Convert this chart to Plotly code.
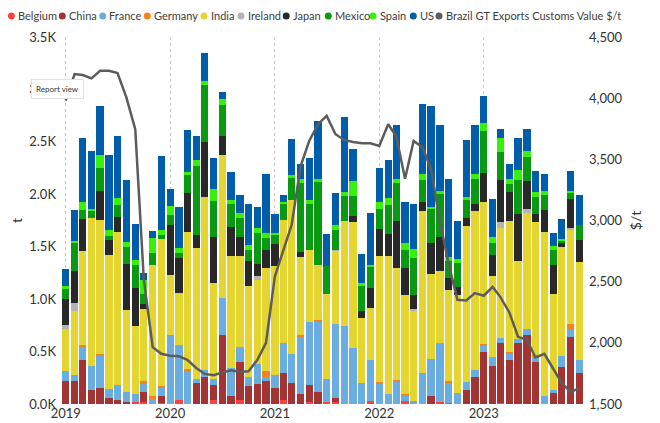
import pandas as pd
import plotly.graph_objects as go

# ---------------- data ----------------
months = pd.date_range("2019-01-01", "2023-12-01", freq="MS")

belgium = [0, 0, 0, 0, 0, 0, 0, 0, 19, 19, 0, 10,
           0, 38, 0, 0, 0, 38, 0, 0, 38, 0, 0, 0,
           0, 38, 0, 0, 19, 0, 19, 19, 0, 0, 0, 29,
           0, 0, 0, 29, 0, 0, 0, 19, 12, 0, 0, 0,
           0, 0, 12, 0, 0, 0, 0, 0, 0, 0, 0, 0]
china = [220, 220, 421, 134, 153, 57, 38, 19, 0, 96, 0, 67,
         0, 0, 0, 201, 258, 143, 660, 77, 363, 172, 191, 220,
         153, 258, 201, 96, 163, 115, 0, 38, 0, 0, 0, 0,
         0, 0, 0, 0, 0, 0, 77, 0, 0, 0, 134, 258,
         497, 363, 574, 421, 583, 660, 402, 0, 105, 354, 641, 296]
france = [96, 57, 124, 230, 306, 86, 143, 96, 77, 77, 57, 77,
          660, 526, 316, 38, 67, 57, 354, 268, 143, 86, 191, 38,
          124, 287, 277, 545, 602, 669, 220, 708, 746, 535, 201, 392,
          191, 96, 210, 48, 29, 296, 354, 564, 191, 105, 77, 67,
          57, 86, 48, 57, 38, 57, 48, 77, 29, 105, 67, 124]
germany = [0, 0, 19, 0, 19, 0, 0, 0, 0, 29, 19, 19,
           0, 0, 19, 0, 0, 0, 0, 0, 0, 0, 0, 57,
           0, 0, 0, 19, 0, 19, 0, 0, 0, 0, 0, 0,
           19, 0, 19, 19, 0, 0, 0, 0, 19, 0, 0, 0,
           19, 0, 0, 19, 0, 0, 19, 0, 0, 0, 57, 0]
india = [400, 612, 892, 1406, 1281, 1275, 1463, 777, 650, 689, 1246, 1396,
         574, 497, 1310, 1253, 1645, 918, 1358, 1071, 870, 870, 803, 985,
         1042, 1176, 1463, 746, 689, 526, 813, 698, 995, 1205, 622, 497,
         1205, 1320, 1071, 947, 861, 1549, 813, 689, 861, 937, 1482, 1511,
         1358, 775, 1042, 1253, 746, 1109, 1262, 1559, 918, 1042, 899, 937]
ireland = [38, 77, 0, 0, 0, 0, 0, 0, 0, 0, 0, 0,
           0, 0, 0, 0, 0, 0, 0, 0, 0, 0, 38, 0,
           0, 0, 0, 0, 0, 0, 0, 10, 0, 0, 0, 0,
           0, 0, 0, 0, 19, 0, 0, 0, 0, 0, 0, 0,
           0, 0, 57, 0, 0, 38, 0, 0, 0, 0, 19, 0]
japan = [250, 306, 312, 0, 277, 143, 143, 447, 358, 45, 0, 0,
         469, 335, 363, 124, 526, 440, 182, 268, 182, 239, 115, 172,
         210, 0, 0, 48, 0, 0, 0, 0, 0, 57, 67, 191,
         258, 201, 449, 258, 134, 77, 287, 325, 115, 77, 77, 67,
         268, 201, 402, 268, 449, 258, 77, 210, 277, 38, 268, 210]
mexico = [96, 271, 86, 77, 210, 38, 112, 160, 220, 96, 121, 38,
          96, 48, 172, 650, 545, 344, 296, 220, 182, 105, 296, 115,
          86, 153, 220, 650, 430, 794, 268, 182, 239, 182, 239, 201,
          182, 277, 363, 172, 354, 210, 325, 402, 163, 230, 182, 239,
          402, 115, 268, 77, 325, 230, 163, 143, 143, 19, 57, 143]
spain = [29, 16, 70, 16, 124, 64, 64, 44, 51, 127, 137, 57,
         89, 48, 29, 57, 38, 115, 57, 38, 48, 48, 48, 48,
         19, 19, 19, 38, 38, 19, 0, 48, 38, 143, 29, 19,
         67, 67, 38, 67, 77, 57, 19, 29, 38, 38, 19, 48,
         77, 48, 134, 48, 86, 57, 48, 38, 38, 19, 19, 0]
us = [163, 287, 609, 551, 469, 708, 596, 590, 344, 67, 67, 701,
      160, 383, 402, 230, 268, 287, 67, 268, 163, 383, 201, 555,
      182, 67, 344, 143, 402, 555, 306, 306, 717, 306, 277, 488,
      325, 363, 507, 383, 430, 669, 966, 631, 746, 363, 545, 469,
      258, 363, 86, 143, 306, 210, 201, 163, 124, 191, 191, 287]
price = [3980, 4197, 4189, 4162, 4224, 4224, 4205, 4006, 3746, 2516, 1965, 1910,
         1895, 1890, 1862, 1795, 1746, 1735, 1757, 1776, 1761, 1768, 1861, 2000,
         2543, 2760, 2967, 3445, 3650, 3787, 3855, 3705, 3658, 3642, 3631, 3631,
         3609, 3787, 3691, 3341, 3650, 3598, 3418, 2990, 2639, 2352, 2347, 2407,
         2385, 2457, 2372, 2246, 2049, 2025, 1880, 1910, 1784, 1670, 1600, 1628]

series_names = ["Belgium", "China", "France", "Germany", "India",
                "Ireland", "Japan", "Mexico", "Spain", "US"]
series_values = [belgium, china, france, germany, india,
                 ireland, japan, mexico, spain, us]
line_name = "Brazil GT Exports Customs Value $/t"

left_ticks = [0, 500, 1000, 1500, 2000, 2500, 3000, 3500]
left_ticktext = ["0.0K", "0.5K", "1.0K", "1.5K", "2.0K", "2.5K", "3.0K", "3.5K"]
right_ticks = [1500, 2000, 2500, 3000, 3500, 4000, 4500]

# ---------------- style / layout ----------------
colors = ["#FD4040", "#A33434", "#6AADE0", "#F5821F", "#E4D531",
          "#B4B4B4", "#282828", "#0A9A12", "#36F20A", "#005DA9"]
line_color = "#5C5C5C"
FONT = "Lato, Segoe UI, sans-serif"
TXT = "#333333"

OFF = 8                      # page body margin in the browser
W, H = 660, 423
# plot area in screen pixels
SX0, SX1, SY0, SY1 = 60, 585, 37, 404
L = SX0 - OFF
T = SY0 - OFF
R = W - (SX1 - OFF)
B = H - (SY1 - OFF)
PW, PH = SX1 - SX0, SY1 - SY0
BAR_W = 25.5 * 86400000      # bar width in ms

fig = go.Figure()
for name, vals, col in zip(series_names, series_values, colors):
    fig.add_trace(go.Bar(x=months, y=vals, name=name, marker_color=col,
                         marker_line_width=0, width=BAR_W))
fig.add_trace(go.Scatter(x=months, y=price, name=line_name, yaxis="y2",
                         mode="lines", line=dict(color=line_color, width=2.5)))

fig.update_layout(
    width=W, height=H, barmode="stack", showlegend=False,
    margin=dict(l=L, r=R, t=T, b=B, pad=0, autoexpand=False),
    plot_bgcolor="white", paper_bgcolor="white",
    font=dict(family=FONT, color=TXT, size=13),
    xaxis=dict(type="date", range=["2018-12-12", "2023-12-21"],
               tick0="2019-01-01", dtick="M12", tickformat="%Y",
               showgrid=True, gridcolor="#C6C6C6", griddash="dot", gridwidth=1,
               zeroline=False, showline=False, ticks="", automargin=False,
               tickfont=dict(size=13, color=TXT)),
    yaxis=dict(range=[0, 3500], tickvals=left_ticks, ticktext=left_ticktext,
               showgrid=False, zeroline=False, showline=False, ticks="",
               automargin=False, ticklabelstandoff=3,
               tickfont=dict(size=13, color=TXT),
               title=dict(text="t", font=dict(size=14, color=TXT), standoff=11)),
    yaxis2=dict(range=[1500, 4500], tickvals=right_ticks, tickprefix="$",
                tickformat=",", overlaying="y", side="right",
                showgrid=False, zeroline=False, showline=False, ticks="",
                automargin=False, ticklabelstandoff=3,
                tickfont=dict(size=13, color=TXT),
                title=dict(text="$/t", font=dict(size=14, color=TXT), standoff=9)),
)

# ---------------- custom legend (dots + real-text labels) ----------------
legend_names = series_names + [line_name]
legend_colors = colors + [line_color]
legend_dot_x = [11.4, 62.3, 102.7, 147.3, 204, 241, 286.2, 328.3, 373, 413.3, 439]
legend_y = 16


def px_to_paper(px, py):
    return (px - SX0) / PW, (SY1 - py) / PH


shapes = []
annotations = []
for name, col, dx in zip(legend_names, legend_colors, legend_dot_x):
    xp, yp = px_to_paper(dx, legend_y)
    shapes.append(dict(type="circle", xref="paper", yref="paper",
                       xsizemode="pixel", ysizemode="pixel",
                       xanchor=xp, yanchor=yp, x0=-3.5, x1=3.5, y0=-3.5, y1=3.5,
                       fillcolor=col, line=dict(width=0)))
    tx, _ = px_to_paper(dx + 4.5, legend_y)
    annotations.append(dict(text=name, x=tx, y=yp, xref="paper", yref="paper",
                            xanchor="left", yanchor="middle", showarrow=False,
                            font=dict(size=11, color="#404040", family=FONT)))

# "Report view" tooltip overlay seen in the screenshot
tx, ty = px_to_paper(57.5, 88.5)
annotations.append(dict(text="Report view", x=tx, y=ty, xref="paper", yref="paper",
                        xanchor="center", yanchor="middle", showarrow=False,
                        bgcolor="white", bordercolor="#E2E2E2", borderwidth=1,
                        borderpad=4, font=dict(size=8, color="#333333", family=FONT)))

fig.update_layout(shapes=shapes, annotations=annotations)

fig.write_html("out.html", config={"displayModeBar": False})
